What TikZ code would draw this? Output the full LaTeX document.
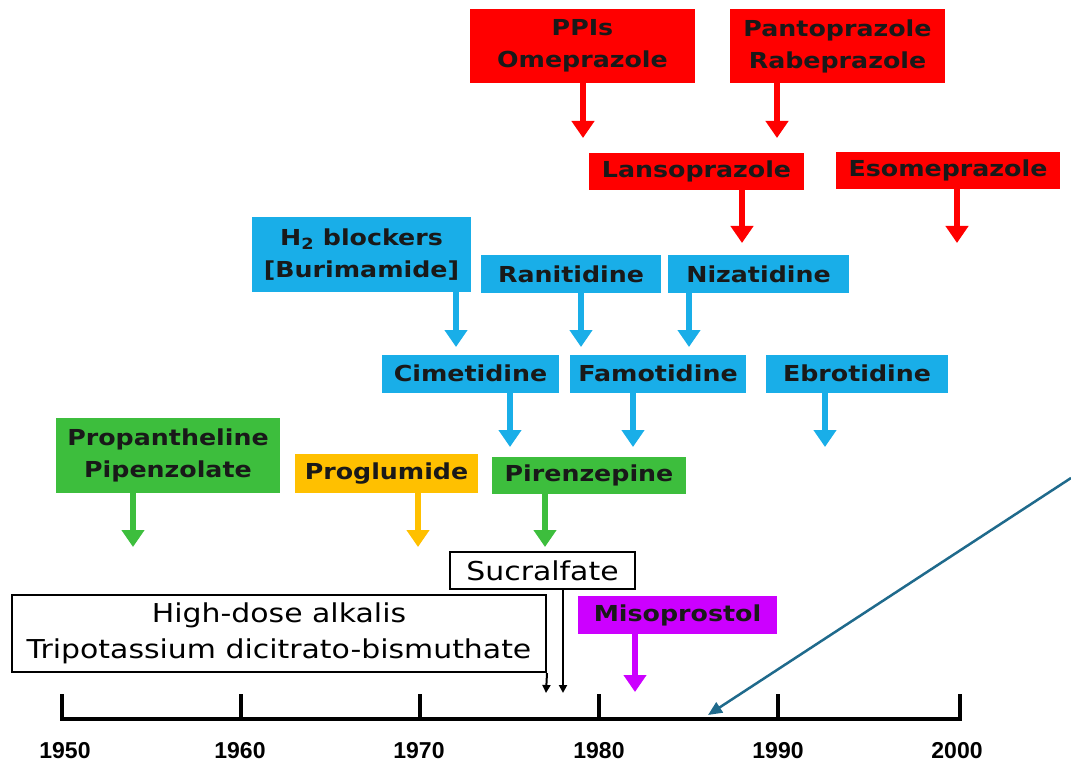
\documentclass[tikz,border=0pt]{standalone}
\usepackage{fontspec}
\setmainfont{DejaVu Sans}[FakeStretch=1.15]
\newfontfamily\yearfont{Liberation Sans}
\usetikzlibrary{arrows.meta}
\definecolor{cred}{HTML}{FF0000}
\definecolor{cblue}{HTML}{19AEE8}
\definecolor{cgreen}{HTML}{3DBE3D}
\definecolor{corange}{HTML}{FFC000}
\definecolor{cpurple}{HTML}{CC00FF}
\definecolor{cteal}{HTML}{1F6A8C}
\tikzset{
  box/.style={inner sep=0pt, align=center, text=black!90, font=\fontsize{22}{32}\selectfont\bfseries},
  redbox/.style={box, fill=cred},
  bluebox/.style={box, fill=cblue},
  greenbox/.style={box, fill=cgreen},
  orangebox/.style={box, fill=corange},
  purplebox/.style={box, fill=cpurple},
  whitebox/.style={inner sep=0pt, align=center, draw=black, line width=2pt, fill=white, text=black, font=\fontsize{26}{36}\selectfont},
  fatarrow/.style={line width=6pt, -{Triangle[width=22pt,length=17pt]}},
  redarrow/.style={fatarrow, draw=cred},
  bluearrow/.style={fatarrow, draw=cblue},
  greenarrow/.style={fatarrow, draw=cgreen},
  orangearrow/.style={fatarrow, draw=corange},
  purplearrow/.style={fatarrow, draw=cpurple},
  thinarrow/.style={line width=2pt, draw=black, -{Triangle[width=8pt,length=8pt]}},
  axis/.style={line width=3.4pt, draw=black, line cap=butt},
  year/.style={font=\yearfont\bfseries\fontsize{23}{23}\selectfont, text=black},
}
\begin{document}
\begin{tikzpicture}[x=1pt,y=-1pt]
\useasboundingbox[fill=white] (0,0) rectangle (1071,762);

% red boxes
\node[redbox, minimum width=225, minimum height=74] (ppi) at (582.5,46) {PPIs\\Omeprazole};
\node[redbox, minimum width=215, minimum height=74] (panto) at (837.5,46) {Pantoprazole\\Rabeprazole};
\node[redbox, minimum width=215, minimum height=37] (lanso) at (696.5,171.5) {Lansoprazole};
\node[redbox, minimum width=224, minimum height=37] (esome) at (948,170.5) {Esomeprazole};

% blue boxes
\node[bluebox, minimum width=219, minimum height=75] (h2) at (361.5,254.5) {H\textsubscript{2} blockers\\{[}Burimamide{]}};
\node[bluebox, minimum width=180, minimum height=38] (rani) at (571,274) {Ranitidine};
\node[bluebox, minimum width=181, minimum height=38] (niza) at (758.5,274) {Nizatidine};
\node[bluebox, minimum width=177, minimum height=38] (cime) at (470.5,373.5) {Cimetidine};
\node[bluebox, minimum width=176, minimum height=38] (famo) at (658,373.5) {Famotidine};
\node[bluebox, minimum width=182, minimum height=38] (ebro) at (857,373.5) {Ebrotidine};

% green / orange
\node[greenbox, minimum width=224, minimum height=75] (propan) at (168,455.5) {Propantheline\\Pipenzolate};
\node[orangebox, minimum width=183, minimum height=39] (progl) at (386.5,473.5) {Proglumide};
\node[greenbox, minimum width=194, minimum height=37] (piren) at (589,475) {Pirenzepine};

% white boxes
\node[whitebox, minimum width=185, minimum height=37] (sucral) at (542.5,570.5) {Sucralfate};
\node[whitebox, minimum width=534, minimum height=77] (alkali) at (279,633.5) {High-dose alkalis\\Tripotassium dicitrato-bismuthate};
\node[purplebox, minimum width=199, minimum height=38] (miso) at (677.5,615) {Misoprostol};

% arrow end points
\coordinate (tppi) at (583,138);
\coordinate (tpanto) at (777,138);
\coordinate (tlanso) at (742,243);
\coordinate (tesome) at (957,243);
\coordinate (th2) at (456,347);
\coordinate (trani) at (581,347);
\coordinate (tniza) at (689,347);
\coordinate (tcime) at (510,447);
\coordinate (tfamo) at (633,447);
\coordinate (tebro) at (825,447);
\coordinate (tpropan) at (133,547);
\coordinate (tprogl) at (418,547);
\coordinate (tpiren) at (545,547);
\coordinate (tsucral) at (563,693);
\coordinate (talkali) at (546,693);
\coordinate (tmiso) at (635,692);

\draw[redarrow] (ppi.south -| tppi) -- (tppi);
\draw[redarrow] (panto.south -| tpanto) -- (tpanto);
\draw[redarrow] (lanso.south -| tlanso) -- (tlanso);
\draw[redarrow] (esome.south -| tesome) -- (tesome);
\draw[bluearrow] (h2.south -| th2) -- (th2);
\draw[bluearrow] (rani.south -| trani) -- (trani);
\draw[bluearrow] (niza.south -| tniza) -- (tniza);
\draw[bluearrow] (cime.south -| tcime) -- (tcime);
\draw[bluearrow] (famo.south -| tfamo) -- (tfamo);
\draw[bluearrow] (ebro.south -| tebro) -- (tebro);
\draw[greenarrow] (propan.south -| tpropan) -- (tpropan);
\draw[orangearrow] (progl.south -| tprogl) -- (tprogl);
\draw[greenarrow] (piren.south -| tpiren) -- (tpiren);
\draw[purplearrow] (miso.south -| tmiso) -- (tmiso);
\draw[thinarrow] (sucral.south -| tsucral) -- (tsucral);
\draw[thinarrow] (alkali.south east) -- (talkali);

% axis
\coordinate (a0) at (62,719);
\coordinate (a5) at (960,719);
\draw[axis, line join=miter] (62,694) -- (a0) -- (a5) -- (960,694);
\foreach \x in {241,420,599,778} \draw[axis] (\x,694) -- (\x,719);
\foreach \x/\y in {65/1950,240/1960,419/1970,599/1980,778/1990,957/2000}
  \node[year] (y\y) at (\x,751) {\y};

% teal arrow
\coordinate (ts) at (1071,478);
\coordinate (te) at (708,715);
\draw[cteal, line width=2.5pt, -{Triangle[width=12pt,length=14pt]}] (ts) -- (te);
\end{tikzpicture}
\end{document}
